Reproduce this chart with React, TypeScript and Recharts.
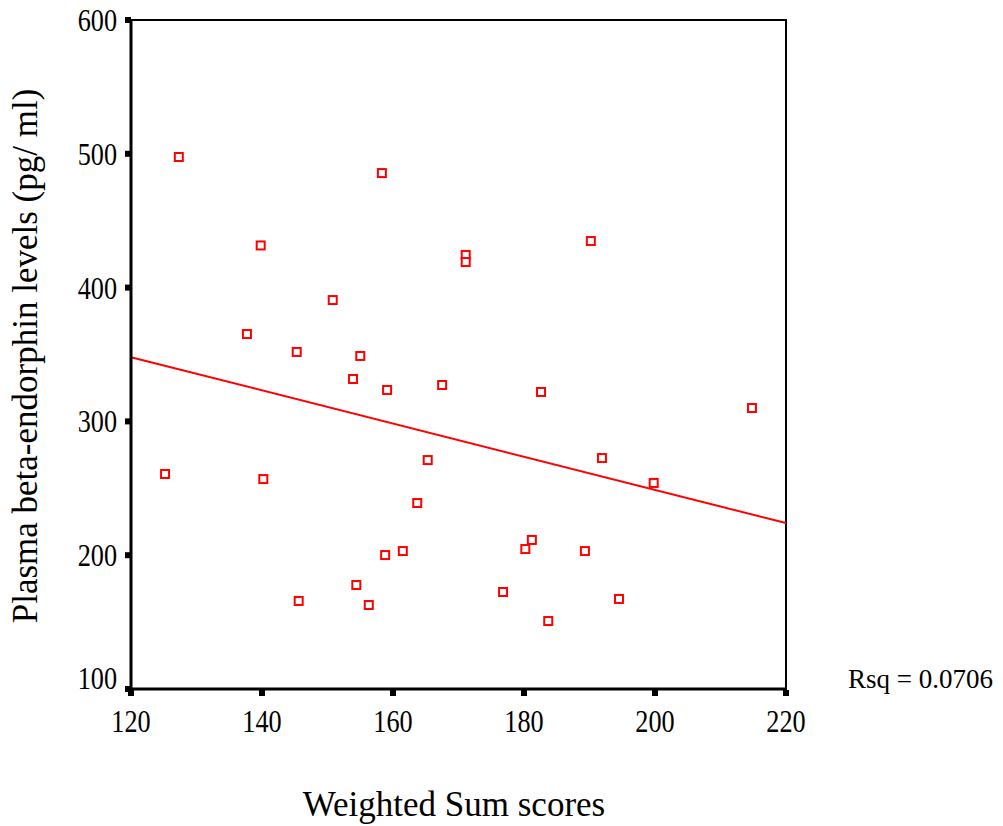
import React from 'react';
import { ScatterChart, Scatter, XAxis, YAxis, ReferenceArea, ReferenceLine } from 'recharts';

const weightedSum = [127.3, 125.2, 139.8, 137.7, 140.2, 145.3, 145.6, 150.8, 153.9, 155.0, 154.4, 156.3, 158.3, 159.1, 158.8, 161.5, 163.7, 165.3, 167.5, 171.1, 171.1, 176.8, 182.6, 180.2, 181.2, 183.7, 190.2, 189.3, 191.9, 194.5, 199.8, 214.8];
const betaEndorphin = [497.6, 260.7, 431.5, 365.3, 256.9, 351.9, 165.8, 390.7, 331.7, 348.9, 177.7, 162.8, 485.6, 323.5, 200.1, 203.1, 239.0, 271.1, 327.2, 424.4, 419.1, 172.5, 322.0, 204.6, 211.4, 150.8, 434.8, 203.1, 272.6, 167.3, 254.0, 310.0];
const fitX = [120, 220];
const fitY = [348, 224];
const xTicks = [120, 140, 160, 180, 200, 220];
const yTicks = [100, 200, 300, 400, 500, 600];

const points = weightedSum.map((x, i) => ({ x, y: betaEndorphin[i] }));

const FONT = '"Liberation Serif", "DejaVu Serif", serif';

const Square = (props: any) => {
  const { cx, cy } = props;
  if (cx == null || cy == null) return null;
  return <rect x={cx - 4} y={cy - 4} width={8} height={8} fill="#fff" stroke="#ff0000" strokeWidth={2} />;
};

const XTick = (props: any) => {
  const { x, y, payload } = props;
  return (
    <g>
      <rect x={x - 3} y={y - 7} width={6} height={6} fill="#000" />
      <g transform={`translate(${x}, ${y + 35}) scale(0.82, 1)`}>
        <text x={0} y={0} textAnchor="middle" fontFamily={FONT} fontSize={32} fill="#000">
          {payload.value}
        </text>
      </g>
    </g>
  );
};

const YTick = (props: any) => {
  const { x, y, payload } = props;
  const dy = payload.value === 100 ? -11 : 0;
  return (
    <g>
      <rect x={x + 2} y={y - 3} width={6} height={6} fill="#000" />
      <g transform={`translate(${x - 6}, ${y + dy + 11}) scale(0.82, 1)`}>
        <text x={0} y={0} textAnchor="end" fontFamily={FONT} fontSize={32} fill="#000">
          {payload.value}
        </text>
      </g>
    </g>
  );
};

export default function App() {
  return (
    <div style={{ position: 'absolute', left: 0, top: 0, width: 1003, height: 826, background: '#fff' }}>
      <ScatterChart width={1003} height={826} margin={{ top: 20, right: 217, bottom: 97, left: 71 }}>
        <XAxis
          type="number"
          dataKey="x"
          domain={[120, 220]}
          ticks={xTicks}
          height={40}
          tickLine={false}
          tick={<XTick />}
          axisLine={{ stroke: '#000', strokeWidth: 3 }}
          allowDataOverflow
        />
        <YAxis
          type="number"
          dataKey="y"
          domain={[100, 600]}
          ticks={yTicks}
          width={60}
          tickLine={false}
          tick={<YTick />}
          axisLine={{ stroke: '#000', strokeWidth: 3 }}
          allowDataOverflow
        />
        <ReferenceArea x1={120} x2={220} y1={100} y2={600} fill="none" stroke="#000" strokeWidth={2} ifOverflow="visible" />
        <ReferenceLine
          segment={[{ x: fitX[0], y: fitY[0] }, { x: fitX[1], y: fitY[1] }]}
          stroke="#ff0000"
          strokeWidth={2}
          ifOverflow="visible"
        />
        <Scatter data={points} shape={<Square />} isAnimationActive={false} />
      </ScatterChart>
      <div style={{ position: 'absolute', left: 0, top: 0, width: 1003, height: 826, pointerEvents: 'none' }}>
        <svg width={1003} height={826}>
          <text
            x={37}
            y={356}
            transform="rotate(-90, 37, 356)"
            textAnchor="middle"
            fontFamily={FONT}
            fontSize={35}
            fill="#000"
          >
            Plasma beta-endorphin levels (pg/ ml)
          </text>
          <text x={454} y={816} textAnchor="middle" fontFamily={FONT} fontSize={35} fill="#000">
            Weighted Sum scores
          </text>
          <text x={848} y={688} textAnchor="start" fontFamily={FONT} fontSize={27} fill="#000">
            Rsq = 0.0706
          </text>
        </svg>
      </div>
    </div>
  );
}
